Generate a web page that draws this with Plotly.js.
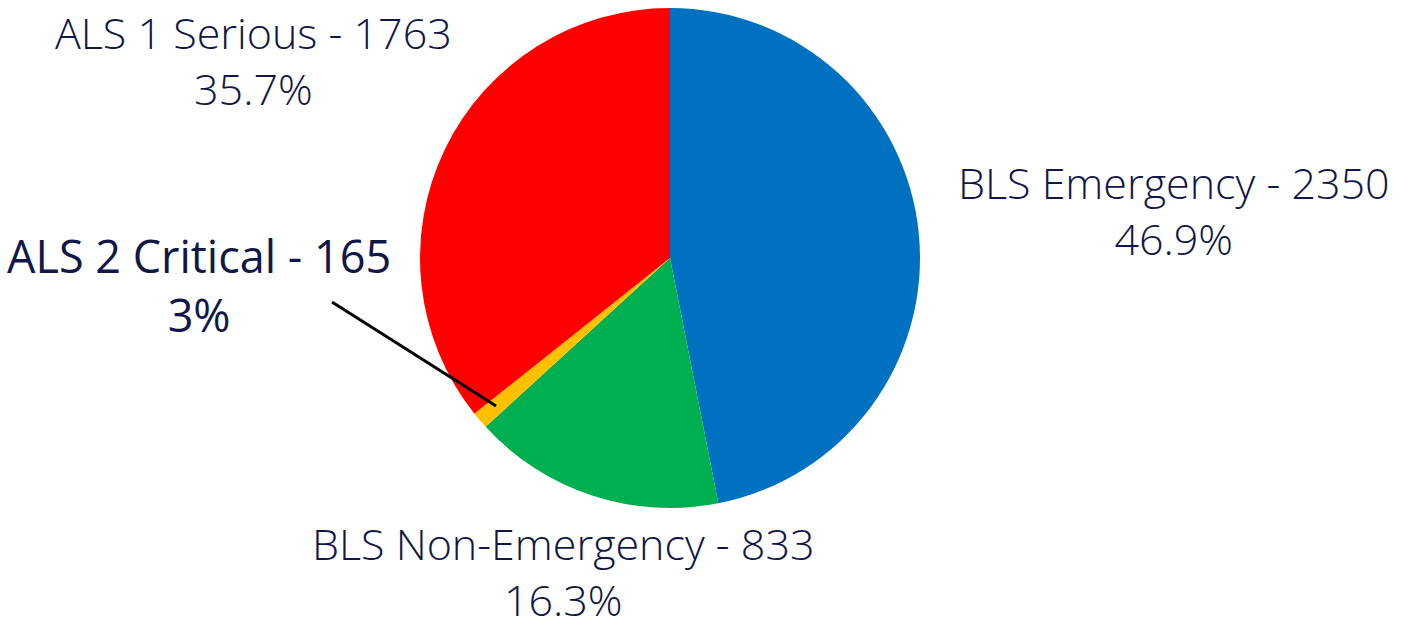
<!DOCTYPE html>
<html>
<head>
<meta charset="utf-8">
<script src="https://cdn.plot.ly/plotly-3.0.1.min.js"></script>
<style>html,body{margin:0;padding:0;background:#fff;}#chart{width:1425px;height:630px;}</style>
</head>
<body>
<div id="chart"></div>
<script>
// Data
var categories = ["BLS Emergency", "BLS Non-Emergency", "ALS 2 Critical", "ALS 1 Serious"];
var counts = [2350, 833, 165, 1763];
var sliceShares = [46.9, 16.3, 1.1, 35.7];   // slice sizes as drawn in the picture
var percentLabels = ["46.9%", "16.3%", "3%", "35.7%"];
var colors = ["#0070C0", "#00B050", "#FFC000", "#FF0000"];

var W = 1425, H = 630;
function px(x){ return x / W; }
function py(y){ return 1 - y / H; }

var textColor = "#111748";
var mainFont = {family: "'Open Sans', sans-serif", size: 43, color: textColor, weight: 300};
var altFont = {family: "'Open Sans', sans-serif", size: 45, color: textColor, weight: 400};

// label block centres (pixels) for each category
var labelPos = [
  [1174, 211],
  [563, 571],
  [199, 285],
  [253, 60]
];
var labelFonts = [mainFont, mainFont, altFont, mainFont];

var annotations = categories.map(function(c, i){
  var p = labelPos[i];
  return {
    xref: "paper", yref: "paper", x: px(p[0]), y: py(p[1]),
    xanchor: "center", yanchor: "middle", showarrow: false, align: "center",
    text: c + " - " + counts[i] + "<br>" + percentLabels[i],
    font: labelFonts[i]
  };
});

var trace = {
  type: "pie",
  labels: categories,
  values: sliceShares,
  sort: false,
  direction: "clockwise",
  rotation: 0,
  marker: {colors: colors, line: {width: 0}},
  textinfo: "none",
  hoverinfo: "skip",
  showlegend: false,
  domain: {x: [px(420), px(920)], y: [py(508), py(8)]}
};

var layout = {
  width: W, height: H,
  margin: {l: 0, r: 0, t: 0, b: 0},
  paper_bgcolor: "#ffffff",
  showlegend: false,
  annotations: annotations,
  shapes: [{
    type: "line", xref: "paper", yref: "paper",
    x0: px(332), y0: py(302), x1: px(496), y1: py(406),
    line: {color: "#000000", width: 3}
  }]
};

Plotly.newPlot("chart", [trace], layout, {displayModeBar: false, staticPlot: true});
</script>
</body>
</html>
